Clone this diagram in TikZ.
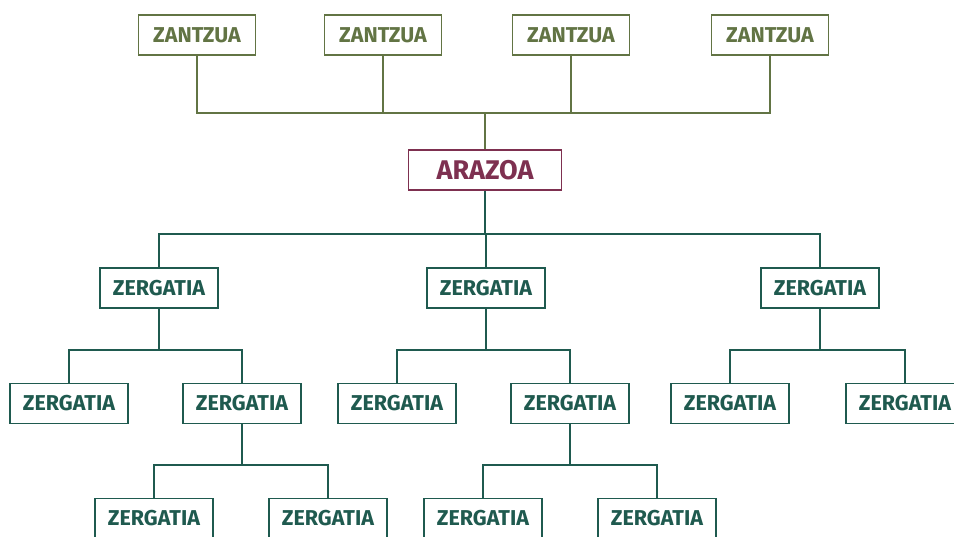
\documentclass[tikz,border=0pt]{standalone}
\usepackage{fontspec}
\newfontfamily\labfont{Fira Sans Bold}
\definecolor{olive}{HTML}{627444}
\definecolor{maroon}{HTML}{7E3050}
\definecolor{teal}{HTML}{1F5A4F}
\tikzset{
  base/.style={draw, line width=1.4pt, fill=white, minimum width=117pt, minimum height=40pt, inner sep=0pt},
  zbox/.style={base, draw=olive, text=olive, font=\labfont\fontsize{21.5}{23}\selectfont},
  abox/.style={base, draw=maroon, text=maroon, minimum width=153pt, font=\labfont\fontsize{27}{29}\selectfont},
  gbox/.style={base, draw=teal, text=teal, minimum width=118pt, font=\labfont\fontsize{21.5}{23}\selectfont},
  oline/.style={draw=olive, line width=1.4pt},
  tline/.style={draw=teal, line width=1.4pt}
}
\begin{document}
\begin{tikzpicture}[x=1pt,y=-1pt]
\useasboundingbox (0,0) rectangle (954,536);
\clip (0,0) rectangle (954,536);
% join points
\coordinate (jt) at (485,113);
\coordinate (jm) at (485,234);
\coordinate (jA) at (159,350);
\coordinate (jB) at (486,350);
\coordinate (jC) at (820,350);
\coordinate (jA2) at (242,465);
\coordinate (jB2) at (570,465);
% boxes
\node[zbox] (z1) at (197,35) {ZANTZUA};
\node[zbox] (z2) at (383,35) {ZANTZUA};
\node[zbox] (z3) at (571,35) {ZANTZUA};
\node[zbox] (z4) at (770,35) {ZANTZUA};
\node[abox] (ar) at (485,170) {ARAZOA};
\node[gbox] (gA) at (159,288) {ZERGATIA};
\node[gbox] (gB) at (486,288) {ZERGATIA};
\node[gbox] (gC) at (820,288) {ZERGATIA};
\node[gbox] (gA1) at (69,403.5) {ZERGATIA};
\node[gbox] (gA2) at (242,403.5) {ZERGATIA};
\node[gbox] (gB1) at (397,403.5) {ZERGATIA};
\node[gbox] (gB2) at (570,403.5) {ZERGATIA};
\node[gbox] (gC1) at (730,403.5) {ZERGATIA};
\node[gbox] (gC2) at (905,403.5) {ZERGATIA};
\node[gbox] (gA21) at (154,518.5) {ZERGATIA};
\node[gbox] (gA22) at (328,518.5) {ZERGATIA};
\node[gbox] (gB21) at (483,518.5) {ZERGATIA};
\node[gbox] (gB22) at (657,518.5) {ZERGATIA};
% connectors
\draw[oline] (z1.south) |- (jt);
\draw[oline] (z2.south) |- (jt);
\draw[oline] (z3.south) |- (jt);
\draw[oline] (z4.south) |- (jt);
\draw[oline] (ar.north) -- (jt);
\draw[tline] (ar.south) -- (jm);
\draw[tline] (jm) -| (gA.north);
\draw[tline] (jm) -| (gB.north);
\draw[tline] (jm) -| (gC.north);
\draw[tline] (gA.south) -- (jA);
\draw[tline] (jA) -| (gA1.north);
\draw[tline] (jA) -| (gA2.north);
\draw[tline] (gB.south) -- (jB);
\draw[tline] (jB) -| (gB1.north);
\draw[tline] (jB) -| (gB2.north);
\draw[tline] (gC.south) -- (jC);
\draw[tline] (jC) -| (gC1.north);
\draw[tline] (jC) -| (gC2.north);
\draw[tline] (gA2.south) -- (jA2);
\draw[tline] (jA2) -| (gA21.north);
\draw[tline] (jA2) -| (gA22.north);
\draw[tline] (gB2.south) -- (jB2);
\draw[tline] (jB2) -| (gB21.north);
\draw[tline] (jB2) -| (gB22.north);
\end{tikzpicture}
\end{document}
